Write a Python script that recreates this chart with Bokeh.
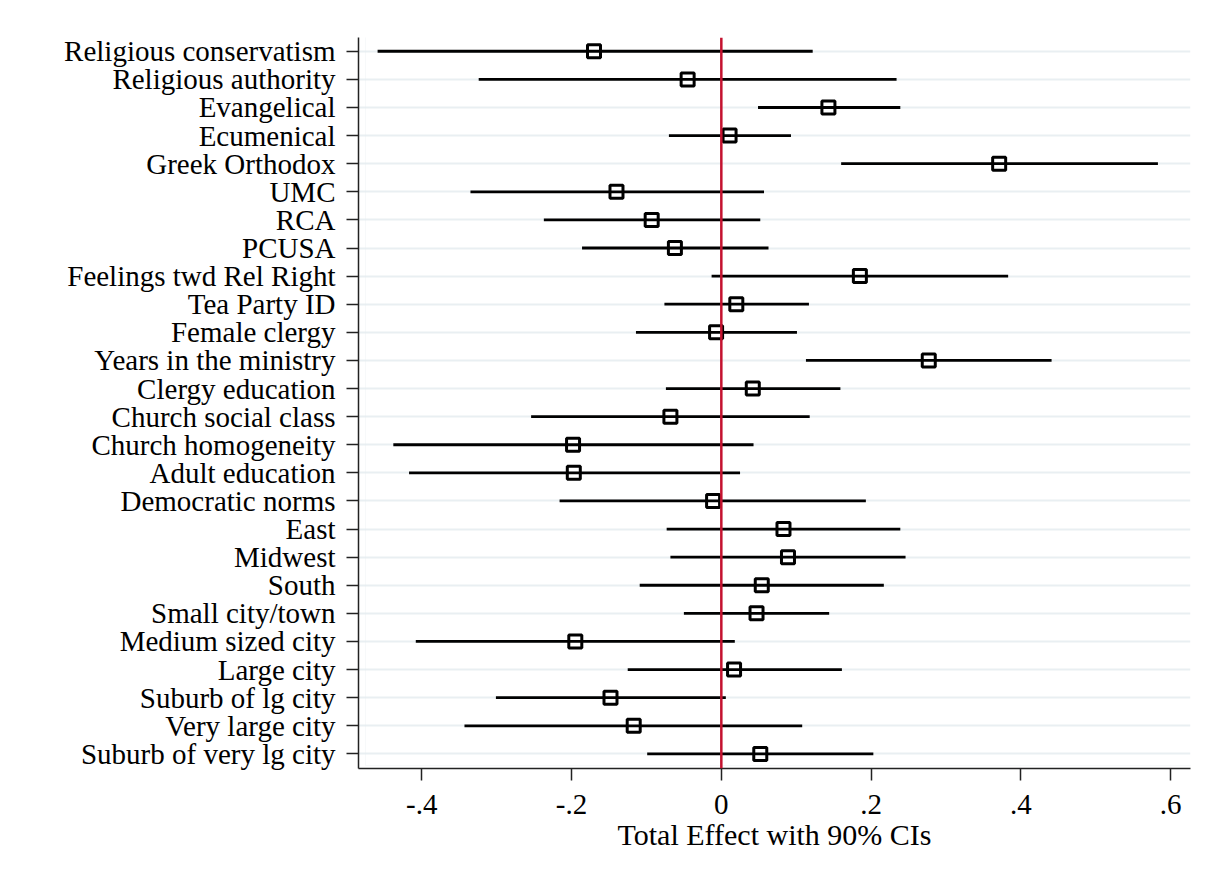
from bokeh.plotting import figure
from bokeh.models import Range1d, FixedTicker, Span, ColumnDataSource, BoxAnnotation
from bokeh.embed import file_html
from bokeh.resources import INLINE

# ---- data ----
labels = [
    "Religious conservatism", "Religious authority", "Evangelical", "Ecumenical",
    "Greek Orthodox", "UMC", "RCA", "PCUSA", "Feelings twd Rel Right",
    "Tea Party ID", "Female clergy", "Years in the ministry", "Clergy education",
    "Church social class", "Church homogeneity", "Adult education",
    "Democratic norms", "East", "Midwest", "South", "Small city/town",
    "Medium sized city", "Large city", "Suburb of lg city", "Very large city",
    "Suburb of very lg city",
]
estimate = [
    -0.170, -0.045, 0.143, 0.011, 0.371, -0.140, -0.093, -0.062, 0.185,
    0.020, -0.007, 0.277, 0.042, -0.068, -0.198, -0.197, -0.011, 0.083,
    0.089, 0.054, 0.047, -0.195, 0.017, -0.148, -0.117, 0.052,
]
ci_low = [
    -0.459, -0.324, 0.049, -0.070, 0.160, -0.335, -0.237, -0.186, -0.013,
    -0.076, -0.114, 0.113, -0.074, -0.254, -0.438, -0.417, -0.216, -0.073,
    -0.068, -0.109, -0.050, -0.408, -0.125, -0.301, -0.343, -0.099,
]
ci_high = [
    0.122, 0.234, 0.239, 0.093, 0.583, 0.057, 0.052, 0.063, 0.383,
    0.117, 0.101, 0.441, 0.159, 0.118, 0.043, 0.025, 0.193, 0.239,
    0.246, 0.217, 0.144, 0.018, 0.161, 0.006, 0.108, 0.203,
]
x_ticks = [-0.4, -0.2, 0.0, 0.2, 0.4, 0.6]
x_tick_labels = ["-.4", "-.2", "0", ".2", ".4", ".6"]
x_title = "Total Effect with 90% CIs"

FONT = "Liberation Serif"
FS = "29px"

rows = list(range(len(labels)))
src = ColumnDataSource(dict(y=rows, est=estimate, lo=ci_low, hi=ci_high))

p = figure(
    frame_width=832, frame_height=731,
    min_border_left=358, min_border_right=15, min_border_top=37, min_border_bottom=112,
    x_range=Range1d(-0.4845, 0.6265),
    y_range=Range1d(25.52, -0.49),
    output_backend="svg", toolbar_location=None,
    background_fill_color="white", border_fill_color="white",
)
p.outline_line_color = None

# faint outer frame of the graph region
p.add_layout(BoxAnnotation(left=7, right=1205, top=3, bottom=879,
                           left_units="screen", right_units="screen",
                           top_units="screen", bottom_units="screen",
                           fill_color=None, line_color="#e3eaee", line_width=1,
                           level="underlay", propagate_hover=False))

# grid
p.xgrid.visible = False
p.ygrid.ticker = FixedTicker(ticks=rows)
p.ygrid.grid_line_color = "#e9eff2"
p.ygrid.grid_line_width = 2

# axes
p.yaxis.ticker = FixedTicker(ticks=rows)
p.yaxis.major_label_overrides = {i: lab for i, lab in enumerate(labels)}
p.xaxis.ticker = FixedTicker(ticks=x_ticks)
p.xaxis.major_label_overrides = {t: l for t, l in zip(x_ticks, x_tick_labels)}
p.xaxis.axis_label = x_title

for ax in (p.xaxis, p.yaxis):
    ax.axis_line_color = "#222222"
    ax.axis_line_width = 1.5
    ax.major_tick_line_color = "#222222"
    ax.major_tick_line_width = 1.5
    ax.major_tick_out = 12
    ax.major_tick_in = 0
    ax.minor_tick_line_color = None
    ax.major_label_text_font = FONT
    ax.major_label_text_font_size = FS
    ax.major_label_text_color = "black"
    ax.major_label_standoff = 11
    ax.axis_label_text_font = FONT
    ax.axis_label_text_font_size = "30px"
    ax.axis_label_text_font_style = "normal"
    ax.axis_label_text_color = "black"
p.xaxis.major_label_standoff = 14
p.xaxis.axis_label_standoff = 1

# CIs
p.segment(x0="lo", y0="y", x1="hi", y1="y", source=src, line_color="black", line_width=2.8)

# zero line
p.add_layout(Span(location=0, dimension="height", line_color="#c4122f", line_width=2.5))

# point estimates
p.scatter(x="est", y="y", source=src, marker="square", size=13,
          fill_color=None, line_color="black", line_width=3)

open("out.html", "w").write(file_html(p, INLINE))
